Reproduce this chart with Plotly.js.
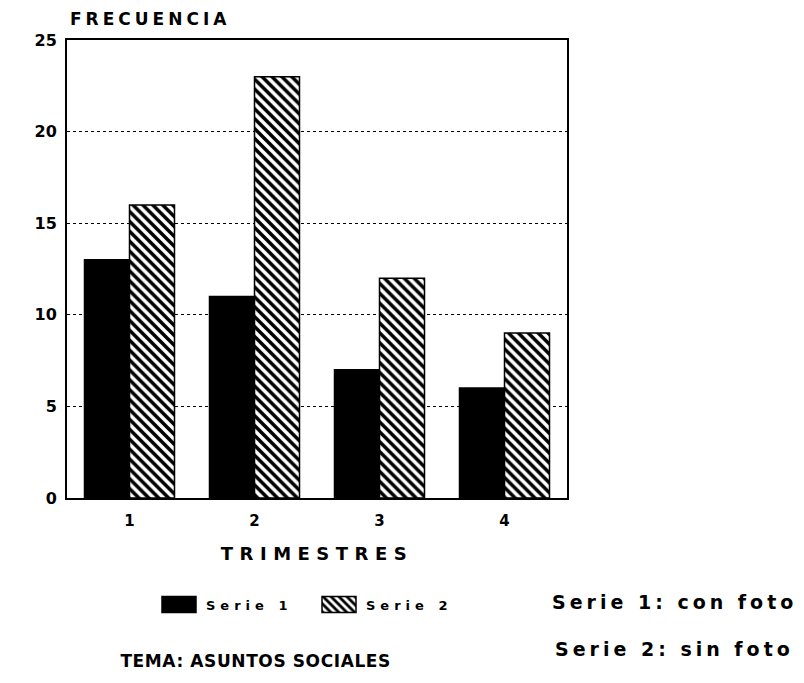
<!DOCTYPE html>
<html>
<head>
<meta charset="utf-8">
<script src="https://cdn.plot.ly/plotly-3.0.1.min.js"></script>
<style>
html,body{margin:0;padding:0;background:#fff;}
#chart{width:804px;height:683px;}
#chart .xtitle{letter-spacing:6.5px;}
#chart .legendtext{letter-spacing:5px;}
#chart g.annotation[data-index="0"] .annotation-text{letter-spacing:4px;}
#chart g.annotation[data-index="1"] .annotation-text{letter-spacing:4px;}
#chart g.annotation[data-index="2"] .annotation-text{letter-spacing:4px;}
#chart g.annotation[data-index="3"] .annotation-text{letter-spacing:0.6px;}
</style>
</head>
<body>
<div id="chart"></div>
<script>
const categories = ["1", "2", "3", "4"];
const serie1 = [13, 11, 7, 6];
const serie2 = [16, 23, 12, 9];
const seriesNames = ["Serie 1", "Serie 2"];
const yTicks = [0, 5, 10, 15, 20, 25];

const FONT = "DejaVu Sans, Liberation Sans, sans-serif";

const traces = [
  {
    type: "bar", x: categories, y: serie1, name: seriesNames[0],
    marker: {color: "#000", line: {color: "#000", width: 1.5}}
  },
  {
    type: "bar", x: categories, y: serie2, name: seriesNames[1],
    marker: {color: "#fff", line: {color: "#000", width: 1.5},
      pattern: {shape: "\\", fgcolor: "#000", bgcolor: "#fff", size: 7, solidity: 0.5}}
  }
];

const layout = {
  width: 804, height: 683,
  paper_bgcolor: "#fff", plot_bgcolor: "#fff",
  margin: {l: 67, r: 237, t: 40, b: 185},
  font: {family: FONT, color: "#000", weight: "bold"},
  barmode: "group", bargap: 0.28, bargroupgap: 0,
  xaxis: {
    type: "category", showline: true, mirror: true, linecolor: "#000", linewidth: 2,
    ticks: "", ticklabelstandoff: 8, tickfont: {size: 15, weight: "bold"}, showgrid: false,
    title: {text: "TRIMESTRES", font: {size: 18, weight: "bold"}, standoff: 18}
  },
  yaxis: {
    range: [0, 25], tickvals: yTicks, ticktext: yTicks.map(String),
    showline: true, mirror: true, linecolor: "#000", linewidth: 2,
    ticks: "", ticklabelstandoff: 5, tickfont: {size: 16, weight: "bold"},
    showgrid: true, gridcolor: "#000", gridwidth: 1, griddash: "dot",
    zeroline: false
  },
  showlegend: true,
  legend: {
    orientation: "h", x: 0.17, y: -0.2, xanchor: "left", yanchor: "top",
    font: {size: 13, weight: "bold"}, traceorder: "normal", itemwidth: 44,
    entrywidth: 101, entrywidthmode: "pixels"
  },
  annotations: [
    {text: "FRECUENCIA", xref: "paper", yref: "paper", x: 0.166, y: 1.02, xanchor: "center", yanchor: "bottom",
     showarrow: false, font: {size: 17, weight: "bold"}},
    {text: "Serie 1: con foto", xref: "paper", yref: "paper", x: 1.214, y: -0.228, xanchor: "center", yanchor: "middle",
     showarrow: false, font: {size: 19, weight: "bold"}},
    {text: "Serie 2: sin foto", xref: "paper", yref: "paper", x: 1.214, y: -0.33, xanchor: "center", yanchor: "middle",
     showarrow: false, font: {size: 19, weight: "bold"}},
    {text: "TEMA: ASUNTOS SOCIALES", xref: "paper", yref: "paper", x: 0.376, y: -0.355, xanchor: "center", yanchor: "middle",
     showarrow: false, font: {size: 17, weight: "bold"}}
  ]
};

Plotly.newPlot("chart", traces, layout, {displayModeBar: false, staticPlot: true}).then(function (gd) {
  // widen the legend swatches to match the reference's rectangular keys
  gd.querySelectorAll(".legend .legendpoints path").forEach(function (p) {
    p.setAttribute("d", "M17,8H-17V-8H17Z");
  });
});
</script>
</body>
</html>
